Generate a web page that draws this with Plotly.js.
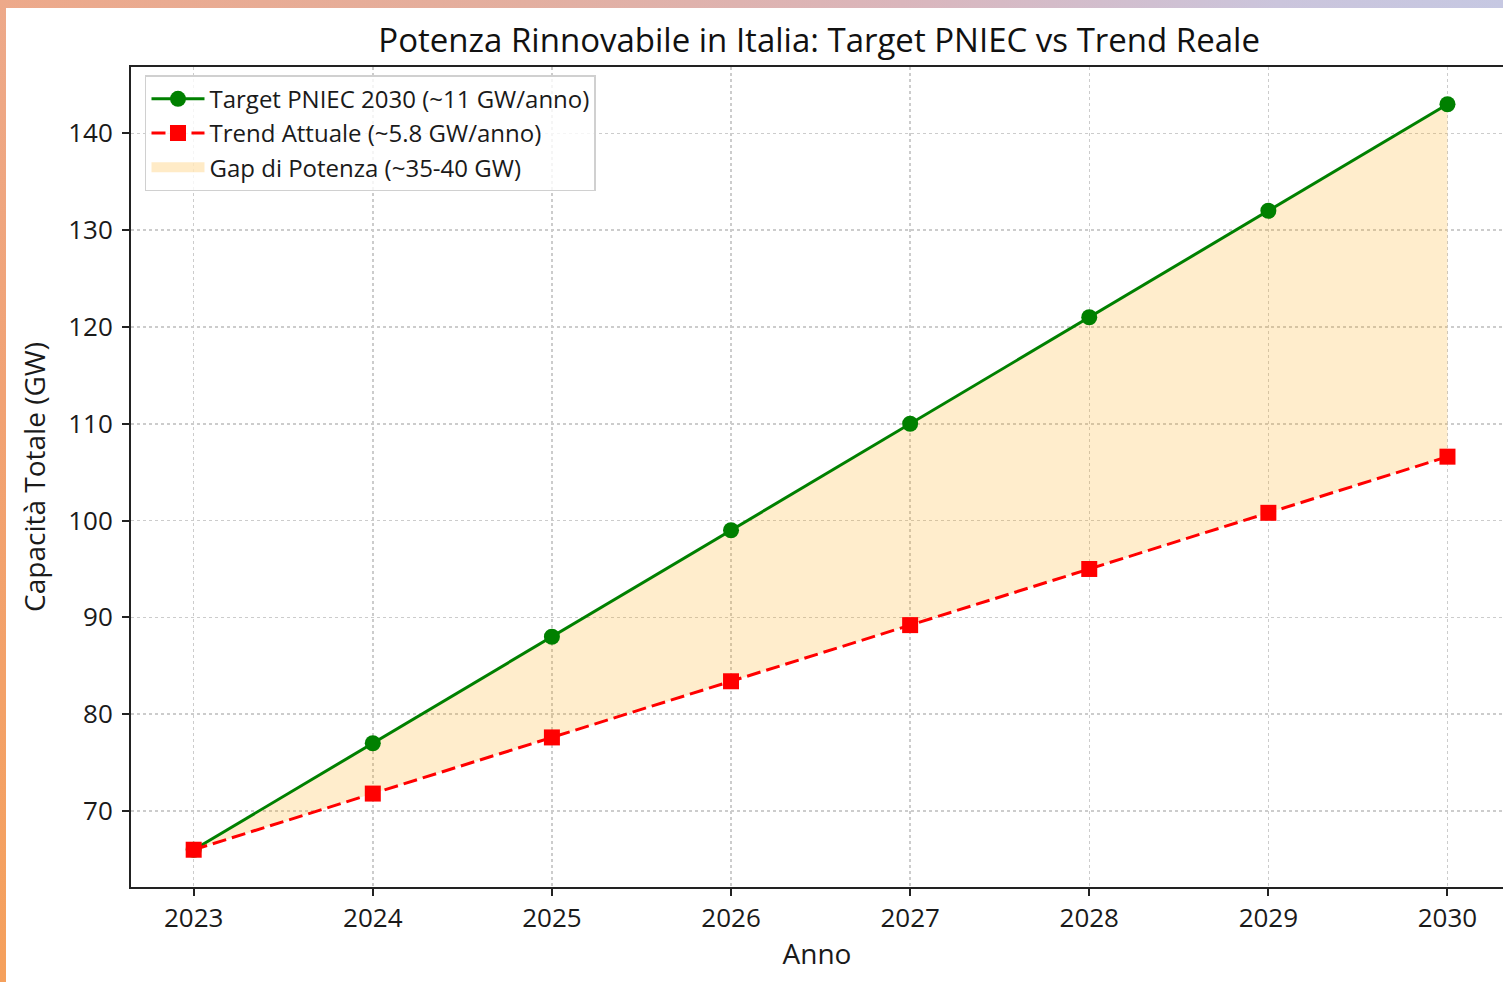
<!DOCTYPE html>
<html>
<head>
<meta charset="utf-8">
<script src="https://cdn.plot.ly/plotly-3.0.1.min.js"></script>
<style>
  html, body { margin: 0; padding: 0; background: #ffffff; overflow: hidden; }
  #wrap { position: relative; width: 1503px; height: 982px; }
  #chart { position: absolute; left: 0; top: 0; width: 1503px; height: 982px; }
  #topbar { position: absolute; left: 0; top: 0; width: 1503px; height: 8px;
    background: linear-gradient(to right, #EDA98A 0%, #E3AFA0 35%, #DAB6BC 60%, #CBC5DC 85%, #C6C8E2 100%); z-index: 5; }
  #leftbar { position: absolute; left: 0; top: 0; width: 6px; height: 982px;
    background: linear-gradient(to bottom, #EDA98A 0%, #F1A274 40%, #F5A05C 100%); z-index: 5; }
</style>
</head>
<body>
<div id="wrap">
  <div id="chart"></div>
  <div id="topbar"></div>
  <div id="leftbar"></div>
</div>
<script>
const years = [2023, 2024, 2025, 2026, 2027, 2028, 2029, 2030];
const targetPNIEC = [66, 77, 88, 99, 110, 121, 132, 143];
const trendAttuale = [66, 71.8, 77.6, 83.4, 89.2, 95.0, 100.8, 106.6];
const yTicks = [70, 80, 90, 100, 110, 120, 130, 140];

const FONT = "'Open Sans', sans-serif";

const traces = [
  {
    x: years, y: trendAttuale, mode: 'lines', line: {width: 0},
    showlegend: false, hoverinfo: 'skip'
  },
  {
    x: years, y: targetPNIEC, mode: 'lines', line: {width: 0},
    fill: 'tonexty', fillcolor: 'rgba(255,165,0,0.2)',
    showlegend: false, hoverinfo: 'skip'
  },
  {
    x: years, y: targetPNIEC, mode: 'lines+markers',
    name: 'Target PNIEC 2030 (~11 GW/anno)', legendrank: 1,
    line: {color: '#008000', width: 3},
    marker: {symbol: 'circle', size: 16, color: '#008000'}
  },
  {
    x: years, y: trendAttuale, mode: 'lines+markers',
    name: 'Trend Attuale (~5.8 GW/anno)', legendrank: 2,
    line: {color: '#FF0000', width: 3, dash: '14px,6px'},
    marker: {symbol: 'square', size: 16, color: '#FF0000'}
  },
  {
    x: [null], y: [null], mode: 'lines',
    name: 'Gap di Potenza (~35-40 GW)', legendrank: 3,
    line: {color: 'rgba(255,165,0,0.22)', width: 20}
  }
];

const layout = {
  width: 1503, height: 982,
  margin: {l: 131, r: 0, t: 67, b: 95, pad: 0},
  paper_bgcolor: '#ffffff', plot_bgcolor: '#ffffff',
  font: {family: FONT, color: '#1a1a1a', size: 24},
  title: {
    text: 'Potenza Rinnovabile in Italia: Target PNIEC vs Trend Reale',
    font: {family: FONT, size: 33, color: '#111111'},
    x: 0.545, xanchor: 'center', y: 0.959, yanchor: 'middle'
  },
  xaxis: {
    range: [2022.65, 2030.31],
    tickvals: years, ticktext: years.map(String),
    ticks: 'outside', ticklen: 7, tickwidth: 2, tickcolor: '#222',
    showline: true, linecolor: '#222', linewidth: 2, mirror: true,
    showgrid: true, gridcolor: '#cccccc', gridwidth: 1.5, griddash: 'dot',
    zeroline: false,
    tickfont: {family: FONT, size: 26, color: '#1a1a1a'},
    title: {text: 'Anno', font: {family: FONT, size: 28, color: '#1a1a1a'}, standoff: 10}
  },
  yaxis: {
    range: [62.15, 146.85],
    tickvals: yTicks, ticktext: yTicks.map(String),
    ticks: 'outside', ticklen: 7, tickwidth: 2, tickcolor: '#222',
    showline: true, linecolor: '#222', linewidth: 2, mirror: false,
    showgrid: true, gridcolor: '#cccccc', gridwidth: 1.5, griddash: 'dot',
    zeroline: false, ticklabelstandoff: 4,
    tickfont: {family: FONT, size: 26, color: '#1a1a1a'},
    title: {text: 'Capacità Totale (GW)', font: {family: FONT, size: 28, color: '#1a1a1a'}, standoff: 14}
  },
  legend: {
    x: 0.0102, y: 0.99, xanchor: 'left', yanchor: 'top',
    bgcolor: 'rgba(255,255,255,0.8)', bordercolor: '#d0d0d0', borderwidth: 1.5,
    font: {family: FONT, size: 24, color: '#1a1a1a'},
    traceorder: 'normal', tracegroupgap: 0, itemwidth: 53
  },
  showlegend: true
};

Plotly.newPlot('chart', traces, layout, {displayModeBar: false, staticPlot: true});
</script>
</body>
</html>
